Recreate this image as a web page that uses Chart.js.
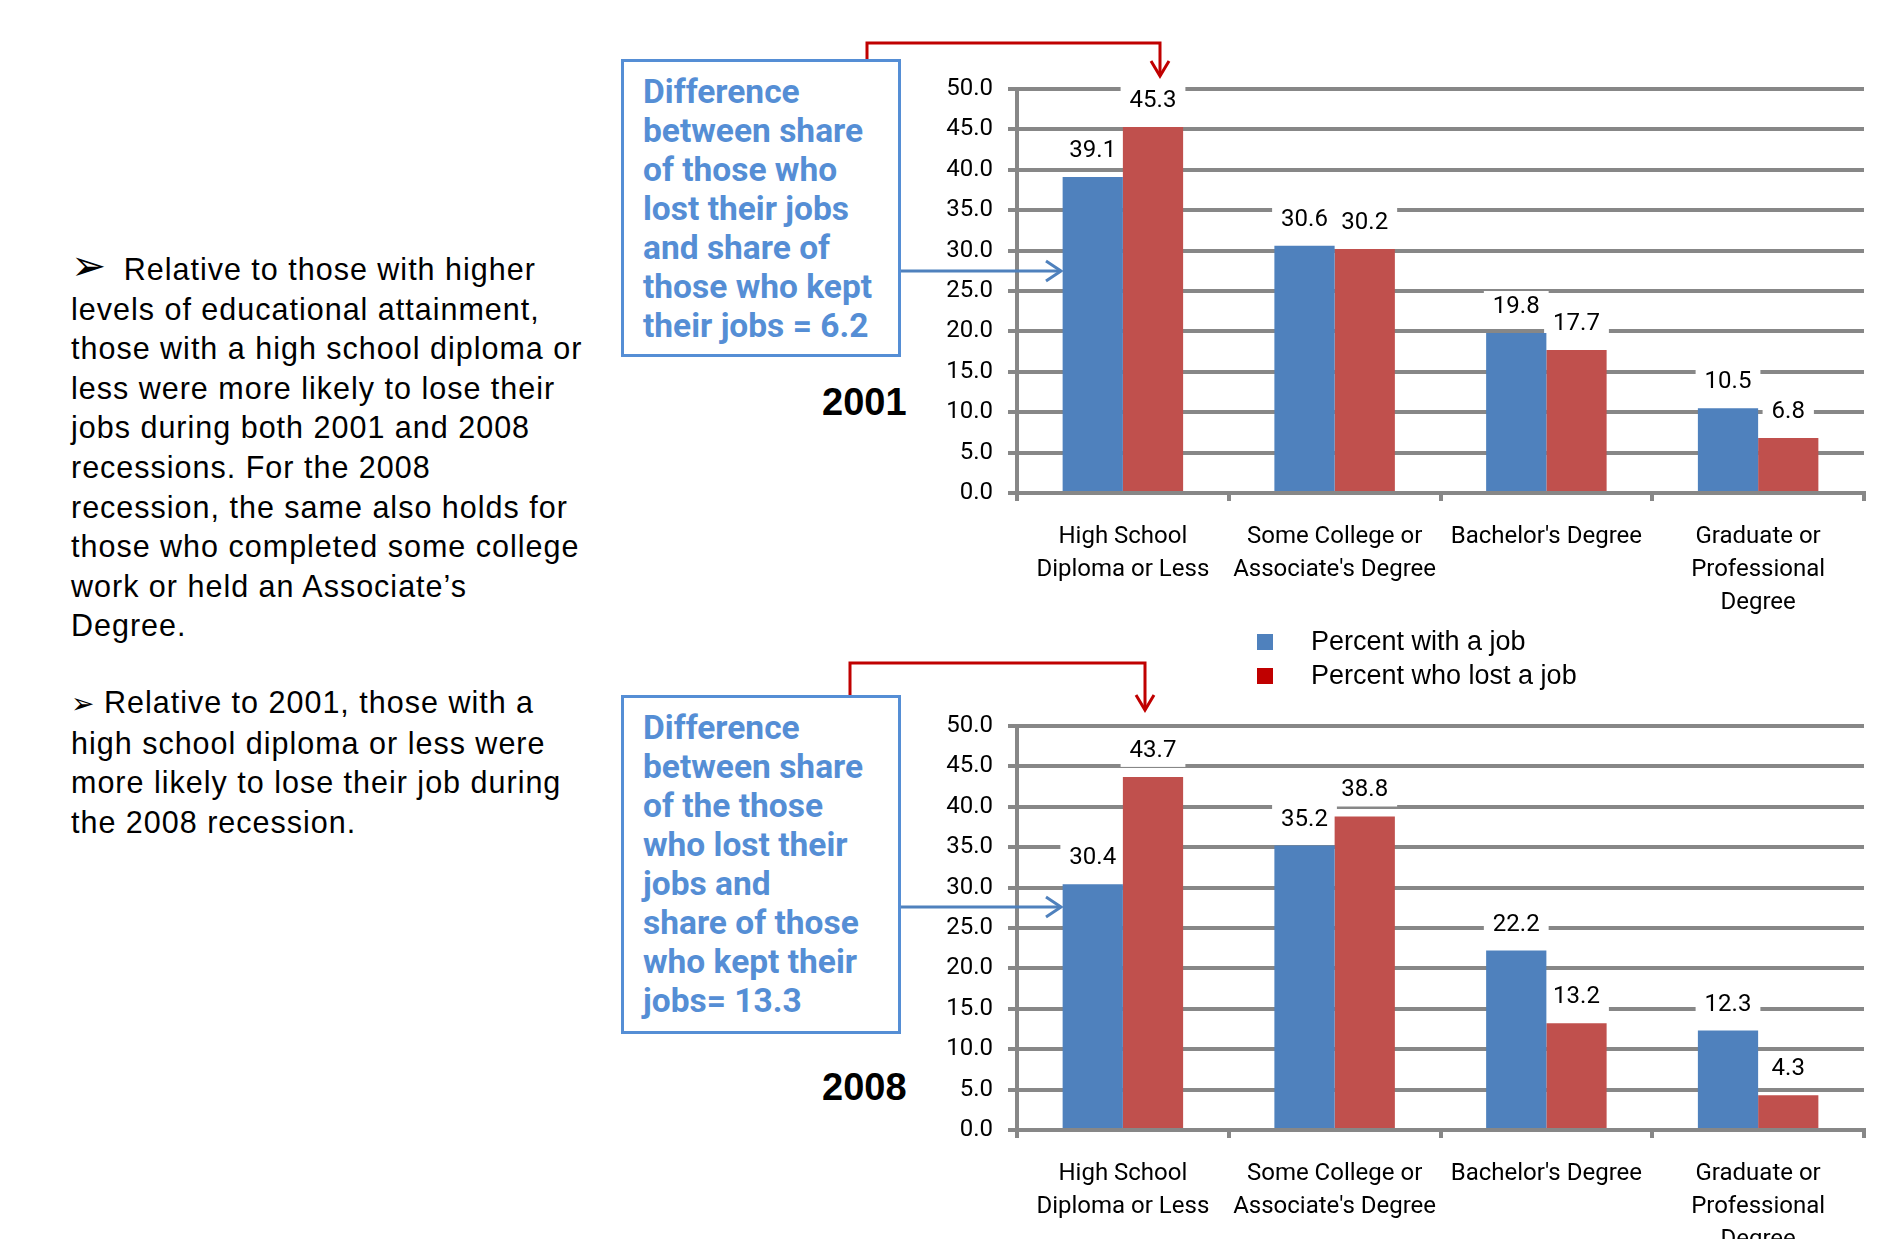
<!DOCTYPE html>
<html>
<head>
<meta charset="utf-8">
<script src="https://cdn.jsdelivr.net/npm/chart.js@4"></script>
<style>
  html, body { margin: 0; padding: 0; background: #fff; width: 1880px; height: 1239px; overflow: hidden; }
  .abs { position: absolute; }
  .para { font-family: "Liberation Sans", Arial, sans-serif; font-size: 30.5px; line-height: 39.6px; letter-spacing: 1px; color: #000; white-space: nowrap; }
  .bullet { font-family: "DejaVu Sans", sans-serif; letter-spacing: 0; }
  .callout { box-sizing: border-box; border: 3px solid #558ED5; background: #fff; padding: 10px 0 0 19px;
             font-family: Roboto, "Noto Sans", sans-serif; font-weight: bold; font-size: 33.5px; line-height: 39px; color: #558ED5; white-space: nowrap; }
  .year { font-family: "Liberation Sans", Arial, sans-serif; font-weight: bold; font-size: 38px; color: #000; }
  .legend { font-family: "Liberation Sans", Arial, sans-serif; font-size: 27px; color: #000; }
  .legend div { position: absolute; white-space: nowrap; }
  .legend span { position: absolute; width: 16px; height: 16px; }
</style>
</head>
<body>
<div class="abs para" style="left:71px; top:250px;"><span class="bullet" style="font-size:42px; line-height:30px; font-weight:bold; margin-right:8px;">&#x27A2;</span>&nbsp;Relative to those with higher<br>levels of educational attainment,<br>those with a high school diploma or<br>less were more likely to lose their<br>jobs during both 2001 and 2008<br>recessions. For the 2008<br>recession, the same also holds for<br>those who completed some college<br>work or held an Associate’s<br>Degree.</div>
<div class="abs para" style="left:71px; top:683px;"><span class="bullet" style="font-size:28px; font-weight:bold;">&#x27A2;</span> Relative to 2001, those with a<br>high school diploma or less were<br>more likely to lose their job during<br>the 2008 recession.</div>

<div class="abs callout" style="left:621px; top:59px; width:280px; height:298px;">Difference<br>between share<br>of those who<br>lost their jobs<br>and share of<br>those who kept<br>their jobs = 6.2</div>
<div class="abs callout" style="left:621px; top:695px; width:280px; height:339px;">Difference<br>between share<br>of the those<br>who lost their<br>jobs and<br>share of those<br>who kept their<br>jobs= 13.3</div>

<div class="abs year" style="left:822px; top:381px;">2001</div>
<div class="abs year" style="left:822px; top:1066px;">2008</div>

<canvas id="chart2001" class="abs" width="1000" height="590" style="left:880px; top:31px;"></canvas>
<canvas id="chart2008" class="abs" width="1000" height="590" style="left:880px; top:668px;"></canvas>

<div id="legend" class="abs legend" style="left:1257px; top:621px; width:400px; height:80px;"></div>

<svg class="abs" width="1880" height="1239" style="left:0; top:0; pointer-events:none;">
  <g fill="none" stroke="#C00000" stroke-width="3">
    <polyline points="867,59 867,43 1160,43 1160,76"/>
    <polyline points="1151,61 1160,76 1169,61"/>
    <polyline points="850,695 850,663 1145,663 1145,710"/>
    <polyline points="1136,695 1145,710 1154,695"/>
  </g>
  <g fill="none" stroke="#4F81BD" stroke-width="3">
    <line x1="901" y1="271" x2="1060" y2="271"/>
    <polyline points="1046,261 1061,271 1046,281"/>
    <line x1="901" y1="907" x2="1060" y2="907"/>
    <polyline points="1046,897 1061,907 1046,917"/>
  </g>
</svg>

<script>
const categories = [
  ['High School', 'Diploma or Less'],
  ['Some College or', "Associate's Degree"],
  ["Bachelor's Degree"],
  ['Graduate or', 'Professional', 'Degree']
];
const seriesNames = ['Percent with a job', 'Percent who lost a job'];
const barColors = ['#4F81BD', '#C0504D'];
const legendColors = ['#4F81BD', '#C00000'];

const withJob2001 = [39.1, 30.6, 19.8, 10.5];
const lostJob2001 = [45.3, 30.2, 17.7, 6.8];
const withJob2008 = [30.4, 35.2, 22.2, 12.3];
const lostJob2008 = [43.7, 38.8, 13.2, 4.3];

const yMin = 0, yMax = 50, yStep = 5;

const gridGray = '#878787';
const chartFont = 'Roboto, "Noto Sans", sans-serif';

// white boxes behind the value labels go under the bars, text goes on top
const valueLabels = {
  id: 'valueLabels',
  beforeDatasetsDraw(chart) {
    const ctx = chart.ctx;
    ctx.save();
    ctx.font = '24px ' + chartFont;
    chart.data.datasets.forEach((ds, i) => {
      chart.getDatasetMeta(i).data.forEach((bar, j) => {
        const txt = ds.data[j].toFixed(1);
        const w = ctx.measureText(txt).width + 18;
        ctx.fillStyle = '#fff';
        ctx.fillRect(bar.x - w / 2, bar.y - 26 - 16, w, 32);
      });
    });
    ctx.restore();
  },
  afterDatasetsDraw(chart) {
    const ctx = chart.ctx;
    ctx.save();
    ctx.font = '24px ' + chartFont;
    ctx.fillStyle = '#000';
    ctx.textAlign = 'center';
    ctx.textBaseline = 'middle';
    chart.data.datasets.forEach((ds, i) => {
      chart.getDatasetMeta(i).data.forEach((bar, j) => {
        ctx.fillText(ds.data[j].toFixed(1), bar.x, bar.y - 26);
      });
    });
    ctx.restore();
  }
};

function makeChart(id, withJob, lostJob) {
  return new Chart(document.getElementById(id), {
    type: 'bar',
    data: {
      labels: categories,
      datasets: [
        { label: seriesNames[0], data: withJob, backgroundColor: barColors[0] },
        { label: seriesNames[1], data: lostJob, backgroundColor: barColors[1] }
      ]
    },
    options: {
      responsive: false,
      animation: false,
      devicePixelRatio: 1,
      layout: { padding: { top: 58, right: 16, left: 0, bottom: 0 } },
      datasets: { bar: { categoryPercentage: 0.569, barPercentage: 1.0 } },
      plugins: { legend: { display: false }, tooltip: { enabled: false } },
      scales: {
        x: {
          grid: { drawOnChartArea: false, drawTicks: true, tickLength: 8, color: gridGray, lineWidth: 4 },
          border: { color: gridGray, width: 4 },
          ticks: { color: '#000', font: { family: chartFont, size: 24, lineHeight: 1.375 }, padding: 19, maxRotation: 0, autoSkip: false },
          afterFit(scale) { scale.height = 128; }
        },
        y: {
          min: yMin, max: yMax,
          grid: { color: gridGray, lineWidth: 4, tickLength: 9 },
          border: { color: gridGray, width: 4 },
          ticks: { stepSize: yStep, color: '#000', font: { family: chartFont, size: 24 }, padding: 15,
                   callback: v => v.toFixed(1) },
          afterFit(scale) { scale.width = 137; }
        }
      }
    },
    plugins: [valueLabels]
  });
}

makeChart('chart2001', withJob2001, lostJob2001);
makeChart('chart2008', withJob2008, lostJob2008);

// legend built from the series names
const legend = document.getElementById('legend');
seriesNames.forEach((name, i) => {
  const sw = document.createElement('span');
  sw.style.left = '0px';
  sw.style.top = (13 + i * 34) + 'px';
  sw.style.background = legendColors[i];
  legend.appendChild(sw);
  const t = document.createElement('div');
  t.textContent = name;
  t.style.left = '54px';
  t.style.top = (5 + i * 34) + 'px';
  legend.appendChild(t);
});
</script>
</body>
</html>
